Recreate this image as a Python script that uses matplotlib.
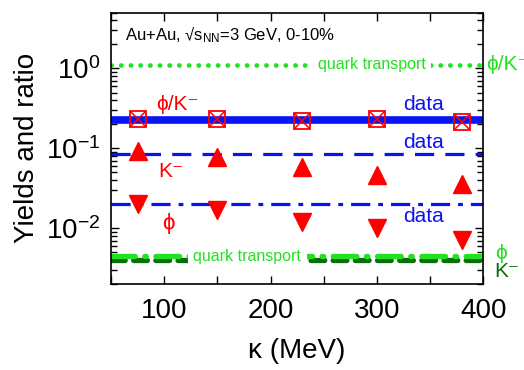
import numpy as np
import matplotlib
matplotlib.use('Agg')
import matplotlib.pyplot as plt
from matplotlib.ticker import MultipleLocator, LogLocator, NullFormatter

plt.rcParams['font.family'] = ['Liberation Sans', 'DejaVu Sans']
plt.rcParams['mathtext.fontset'] = 'custom'
plt.rcParams['mathtext.rm'] = 'Liberation Sans'
plt.rcParams['mathtext.it'] = 'Liberation Sans:italic'
plt.rcParams['mathtext.bf'] = 'Liberation Sans:bold'

# data
kappa = [75, 150, 230, 300, 380]
phi_over_k = [0.23, 0.236, 0.22, 0.23, 0.213]
k_minus = [0.093, 0.077, 0.059, 0.046, 0.036]
phi = [0.0202, 0.0167, 0.012, 0.010, 0.0072]

# measured values (horizontal bands)
data_phi_over_k = 0.225
data_k_minus = 0.086
data_phi = 0.020

# quark transport predictions
qt_phi_over_k = 1.12
qt_phi = 0.0045
qt_k_minus = 0.0040

x_range = [50, 400]

red = '#ff0000'
blue = '#0a14f0'
lgreen = '#22e022'
dgreen = '#0a6e0a'

fig = plt.figure(figsize=(5.24, 3.70), dpi=100)
ax = fig.add_axes([0.212, 0.232, 0.710, 0.734])

# data bands
ax.plot(x_range, [data_phi_over_k] * 2, color=blue, lw=5.5, solid_capstyle='butt', zorder=2)
ax.plot(x_range, [data_k_minus] * 2, color=blue, lw=2.3, ls=(0, (6, 3.5)), zorder=2)
ax.plot(x_range, [data_phi] * 2, color=blue, lw=2.3, ls=(0, (6, 2.5, 1.5, 2.5)), zorder=2)

# quark transport lines
ax.plot(x_range, [qt_phi_over_k] * 2, color=lgreen, lw=3.4, ls=(0, (0.05, 2.0)),
        dash_capstyle='round', zorder=2)
ax.plot(x_range, [qt_k_minus] * 2, color=dgreen, lw=3.8, ls=(0, (2.6, 1.6)),
        dash_capstyle='round', zorder=2)
ax.plot(x_range, [qt_phi] * 2, color=lgreen, lw=3.8, ls=(0, (4.5, 1.8, 0.3, 1.8)),
        dash_capstyle='round', zorder=2.1)

# markers
ax.plot(kappa, phi_over_k, ls='none', marker='s', ms=11, mfc='none', mec=red, mew=1.3, zorder=3)
ax.plot(kappa, phi_over_k, ls='none', marker='x', ms=11, mec=red, mew=1.1, zorder=3)
ax.plot(kappa, k_minus, ls='none', marker='^', ms=13, color=red, zorder=3)
ax.plot(kappa, phi, ls='none', marker='v', ms=13, color=red, zorder=3)

ax.set_yscale('log')
ax.set_xlim(50, 400)
ax.set_ylim(0.002, 5)

ax.xaxis.set_major_locator(MultipleLocator(100))
ax.xaxis.set_minor_locator(MultipleLocator(50))
ax.yaxis.set_major_locator(LogLocator(base=10, numticks=10))
ax.yaxis.set_minor_locator(LogLocator(base=10, subs=np.arange(2, 10), numticks=10))
ax.yaxis.set_minor_formatter(NullFormatter())
ax.tick_params(which='both', direction='in', top=True, right=True, labelsize=20)
ax.tick_params(axis='x', which='both', pad=10)
ax.tick_params(axis='y', which='both', pad=8)
ax.tick_params(which='major', length=6, width=1)
ax.tick_params(which='minor', length=4, width=1)
ax.tick_params(axis='x', which='minor', length=6)
for s in ax.spines.values():
    s.set_linewidth(1.2)

ax.set_xlabel('κ (MeV)', fontsize=20, labelpad=10)
ax.set_ylabel('Yields and ratio', fontsize=20, labelpad=4)

ax.text(0.038, 0.918, r'Au+Au, √s$_{\rm NN}$=3 GeV, 0-10%', transform=ax.transAxes,
        fontsize=12, va='center', ha='left')

wbox = dict(facecolor='white', edgecolor='none', pad=4)
ax.text(295, qt_phi_over_k, 'quark transport', color=lgreen, fontsize=11.5,
        ha='center', va='center', bbox=wbox, zorder=4)
ax.text(178, qt_phi, 'quark transport', color=lgreen, fontsize=11.5,
        ha='center', va='center', bbox=wbox, zorder=4)

ax.text(112, 0.355, 'ϕ/K⁻', color=red, fontsize=15, ha='center', va='center')
ax.text(106, 0.052, 'K⁻', color=red, fontsize=15, ha='center', va='center')
ax.text(104, 0.0114, 'ϕ', color=red, fontsize=16, ha='center', va='center')

ax.text(344, 0.355, 'data', color=blue, fontsize=15, ha='center', va='center')
ax.text(344, 0.117, 'data', color=blue, fontsize=15, ha='center', va='center')
ax.text(344, 0.014, 'data', color=blue, fontsize=15, ha='center', va='center')

ax.text(403, qt_phi_over_k, 'ϕ/K⁻', color=lgreen, fontsize=15, ha='left',
        va='center', clip_on=False)
ax.text(411, 0.0048, 'ϕ', color=lgreen, fontsize=15, ha='left', va='center', clip_on=False)
ax.text(410, 0.0029, 'K⁻', color=dgreen, fontsize=15, ha='left', va='center', clip_on=False)

fig.savefig('out.png', dpi=100)
